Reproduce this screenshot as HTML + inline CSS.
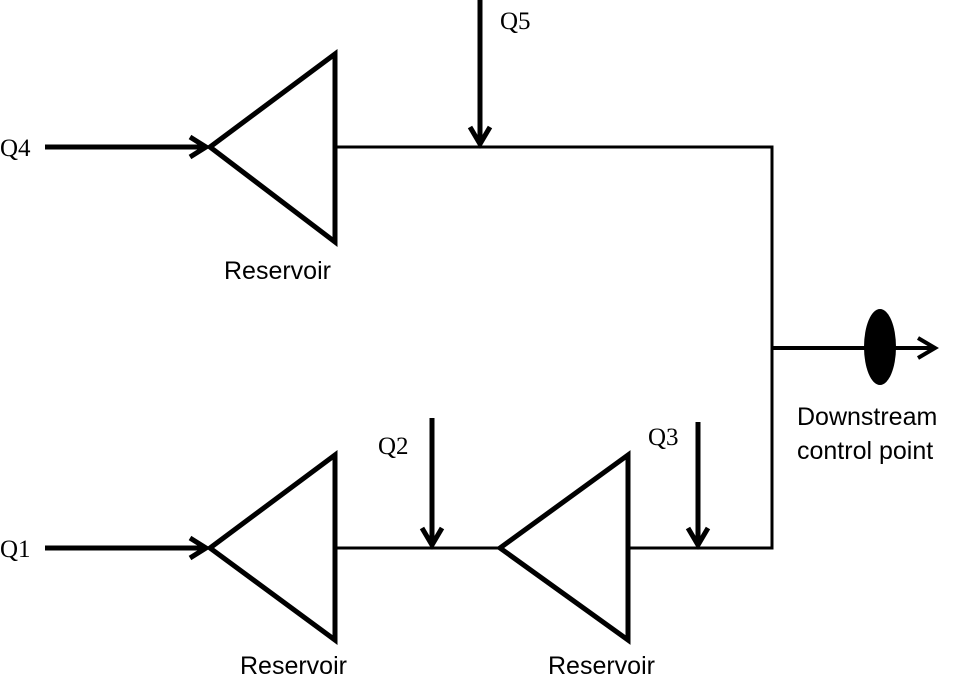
<!DOCTYPE html>
<html><head><style>
body{margin:0;background:#fff;}
svg{display:block;}
.s{font-family:"Liberation Sans",sans-serif;font-size:25px;fill:#000;}
.r{font-family:"Liberation Serif",serif;font-size:25px;fill:#000;}
</style></head><body>
<svg width="968" height="680" viewBox="0 0 968 680" xmlns="http://www.w3.org/2000/svg">
<g fill="none" stroke="#000" stroke-linejoin="miter">
<polygon points="210,147 335,54 335,242" stroke-width="5"/>
<polygon points="210,548 335,455 335,640" stroke-width="5"/>
<polygon points="500,548 628,455 628,640" stroke-width="5"/>
<polyline points="335,147 772,147 772,548 628,548" stroke-width="3"/>
<line x1="335" y1="548" x2="500" y2="548" stroke-width="3"/>
<line x1="772" y1="348" x2="935" y2="348" stroke-width="4"/>
<polyline points="918,338 935,348 918,358" stroke-width="4"/>
<line x1="45" y1="147" x2="206" y2="147" stroke-width="5"/>
<polyline points="190,137 206,147 190,157" stroke-width="5"/>
<line x1="45" y1="548" x2="206" y2="548" stroke-width="5"/>
<polyline points="190,538 206,548 190,558" stroke-width="5"/>
<line x1="480" y1="0" x2="480" y2="144" stroke-width="5"/>
<polyline points="470,127 480,144 490,127" stroke-width="5"/>
<line x1="432" y1="418" x2="432" y2="545" stroke-width="5"/>
<polyline points="422,528 432,545 442,528" stroke-width="5"/>
<line x1="698" y1="422" x2="698" y2="545" stroke-width="5"/>
<polyline points="688,528 698,545 708,528" stroke-width="5"/>
</g>
<ellipse cx="880" cy="347" rx="16" ry="38" fill="#000"/>
<text class="r" x="0" y="156">Q4</text>
<text class="r" x="500" y="29">Q5</text>
<text class="r" x="0" y="557">Q1</text>
<text class="r" x="378" y="454">Q2</text>
<text class="r" x="648" y="445">Q3</text>
<text class="s" x="224" y="279">Reservoir</text>
<text class="s" x="240" y="674">Reservoir</text>
<text class="s" x="548" y="674">Reservoir</text>
<text class="s" x="797" y="425">Downstream</text>
<text class="s" x="797" y="459">control point</text>
</svg>
</body></html>
